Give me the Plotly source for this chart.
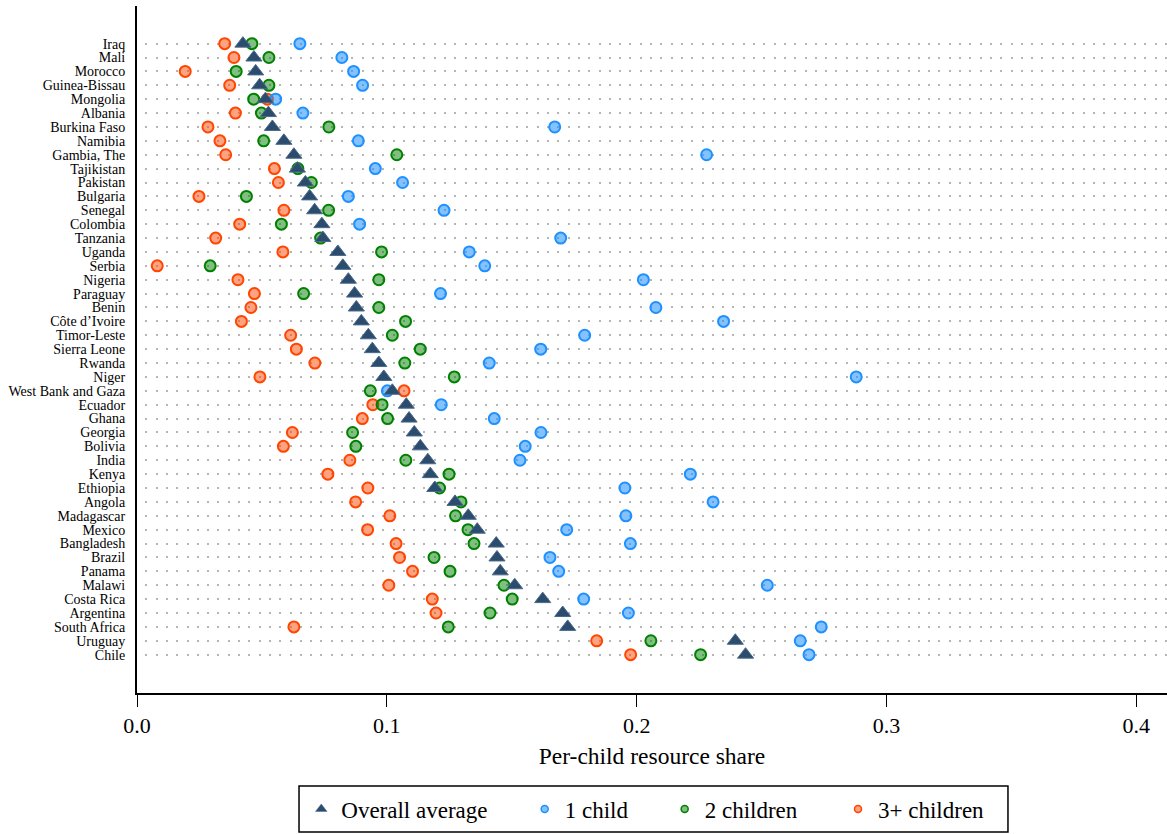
import plotly.graph_objects as go

countries = ["Iraq", "Mali", "Morocco", "Guinea-Bissau", "Mongolia", "Albania", "Burkina Faso",
             "Namibia", "Gambia, The", "Tajikistan", "Pakistan", "Bulgaria", "Senegal", "Colombia",
             "Tanzania", "Uganda", "Serbia", "Nigeria", "Paraguay", "Benin", "Côte d’Ivoire",
             "Timor-Leste", "Sierra Leone", "Rwanda", "Niger", "West Bank and Gaza", "Ecuador",
             "Ghana", "Georgia", "Bolivia", "India", "Kenya", "Ethiopia", "Angola", "Madagascar",
             "Mexico", "Bangladesh", "Brazil", "Panama", "Malawi", "Costa Rica", "Argentina",
             "South Africa", "Uruguay", "Chile"]

overall = [0.0424, 0.0468, 0.0475, 0.0491, 0.0514, 0.0526, 0.0542, 0.0588, 0.0628, 0.0642,
           0.0674, 0.0691, 0.0711, 0.0740, 0.0744, 0.0804, 0.0824, 0.0846, 0.0871, 0.0878,
           0.0898, 0.0926, 0.0942, 0.0968, 0.0988, 0.1022, 0.1078, 0.1089, 0.1110, 0.1134,
           0.1164, 0.1174, 0.1192, 0.1273, 0.1326, 0.1362, 0.1438, 0.1441, 0.1454, 0.1512,
           0.1624, 0.1704, 0.1724, 0.2395, 0.2436]

one_child = [0.0652, 0.0820, 0.0867, 0.0903, 0.0555, 0.0664, 0.1672, 0.0886, 0.2280, 0.0954,
             0.1063, 0.0846, 0.1229, 0.0891, 0.1696, 0.1330, 0.1392, 0.2027, 0.1215, 0.2077,
             0.2348, 0.1792, 0.1616, 0.1410, 0.2879, 0.1002, 0.1218, 0.1430, 0.1617, 0.1554,
             0.1533, 0.2215, 0.1953, 0.2306, 0.1957, 0.1720, 0.1975, 0.1653, 0.1688, 0.2523,
             0.1788, 0.1967, 0.2739, 0.2655, 0.2690]

two_children = [0.0460, 0.0528, 0.0397, 0.0528, 0.0467, 0.0498, 0.0768, 0.0507, 0.1040, 0.0644,
                0.0698, 0.0438, 0.0767, 0.0578, 0.0735, 0.0979, 0.0293, 0.0968, 0.0667, 0.0968,
                0.1075, 0.1022, 0.1134, 0.1072, 0.1270, 0.0934, 0.0981, 0.1003, 0.0863, 0.0876,
                0.1076, 0.1249, 0.1211, 0.1297, 0.1275, 0.1325, 0.1349, 0.1189, 0.1253, 0.1469,
                0.1502, 0.1413, 0.1246, 0.2057, 0.2256]

three_plus = [0.0351, 0.0388, 0.0193, 0.0371, 0.0522, 0.0394, 0.0284, 0.0332, 0.0355, 0.0550,
              0.0566, 0.0248, 0.0588, 0.0411, 0.0315, 0.0584, 0.0081, 0.0404, 0.0470, 0.0456,
              0.0418, 0.0615, 0.0638, 0.0712, 0.0492, 0.1069, 0.0944, 0.0902, 0.0622, 0.0586,
              0.0852, 0.0764, 0.0924, 0.0875, 0.1012, 0.0923, 0.1037, 0.1051, 0.1103, 0.1008,
              0.1182, 0.1197, 0.0628, 0.1840, 0.1976]

x_ticks = [0.0, 0.1, 0.2, 0.3, 0.4]

FONT = "Liberation Serif, DejaVu Serif, serif"

series = [
    # name, values, symbol, size, fill, edge, edge width, legend id, legend symbol size
    ("3+ children", three_plus, "circle", 11, "rgba(255,69,0,0.5)", "#FF4500", 2, "legend4", 7),
    ("2 children", two_children, "circle", 11, "rgba(0,128,0,0.5)", "#008000", 2, "legend3", 7),
    ("1 child", one_child, "circle", 11, "rgba(30,144,255,0.55)", "#1E90FF", 2, "legend2", 7),
    ("Overall average", overall, "triangle-up", 14, "#2C4C6E", "#4A6A8C", 1, "legend", 10),
]

fig = go.Figure()
for name, vals, sym, size, fill, edge, ew, leg, lsize in series:
    fig.add_trace(go.Scatter(
        x=vals, y=countries, mode="markers", name=name, showlegend=False,
        marker=dict(symbol=sym, size=size, color=fill, line=dict(color=edge, width=ew))))
# legend-only entries with small symbols (no data)
for name, vals, sym, size, fill, edge, ew, leg, lsize in series:
    fig.add_trace(go.Scatter(
        x=[None], y=[None], mode="markers", name=name, showlegend=True, legend=leg,
        marker=dict(symbol=sym, size=lsize, color=fill,
                    line=dict(color=edge, width=1.5 if sym == "circle" else 0.5))))

n = len(countries)
leg_common = dict(orientation="h", xanchor="left", y=-0.1689, yanchor="middle",
                  bgcolor="rgba(0,0,0,0)", borderwidth=0,
                  font=dict(size=23, family=FONT, color="black"))
fig.update_layout(
    width=1167, height=834,
    margin=dict(l=137, r=0, t=6, b=141),
    plot_bgcolor="white", paper_bgcolor="white",
    font=dict(family=FONT, color="black"),
    legend=dict(x=0.1595, **leg_common),
    legend2=dict(x=0.3764, **leg_common),
    legend3=dict(x=0.5123, **leg_common),
    legend4=dict(x=0.6806, **leg_common),
    shapes=[dict(type="rect", xref="paper", yref="paper",
                 x0=0.1573, x1=0.8456, y0=-0.2023, y1=-0.1354,
                 line=dict(color="black", width=1.5), fillcolor="rgba(0,0,0,0)")],
    xaxis=dict(range=[0, 0.4123], tickvals=x_ticks, tickformat=".1f",
               showline=True, linecolor="black", linewidth=2, mirror=False,
               ticks="outside", ticklen=12, tickwidth=1.3, tickcolor="black",
               showgrid=False, zeroline=False, automargin=False,
               tickfont=dict(size=22, family=FONT),
               title=dict(text="Per-child resource share", font=dict(size=23.5, family=FONT),
                          standoff=10)),
    yaxis=dict(type="category", categoryorder="array", categoryarray=countries,
               tickmode="linear", dtick=1,
               range=[n - 1 + 2.76, -2.71], automargin=False,
               showline=True, linecolor="black", linewidth=2, ticks="",
               ticklabelstandoff=7,
               showgrid=True, gridcolor="#b5b5b5", gridwidth=2,
               griddash="0px,8.3px,2px,0px", zeroline=False,
               tickfont=dict(size=14, family=FONT)),
)

fig.write_html("out.html", config={"displayModeBar": False},
               post_script="document.body.style.margin='0px';")
